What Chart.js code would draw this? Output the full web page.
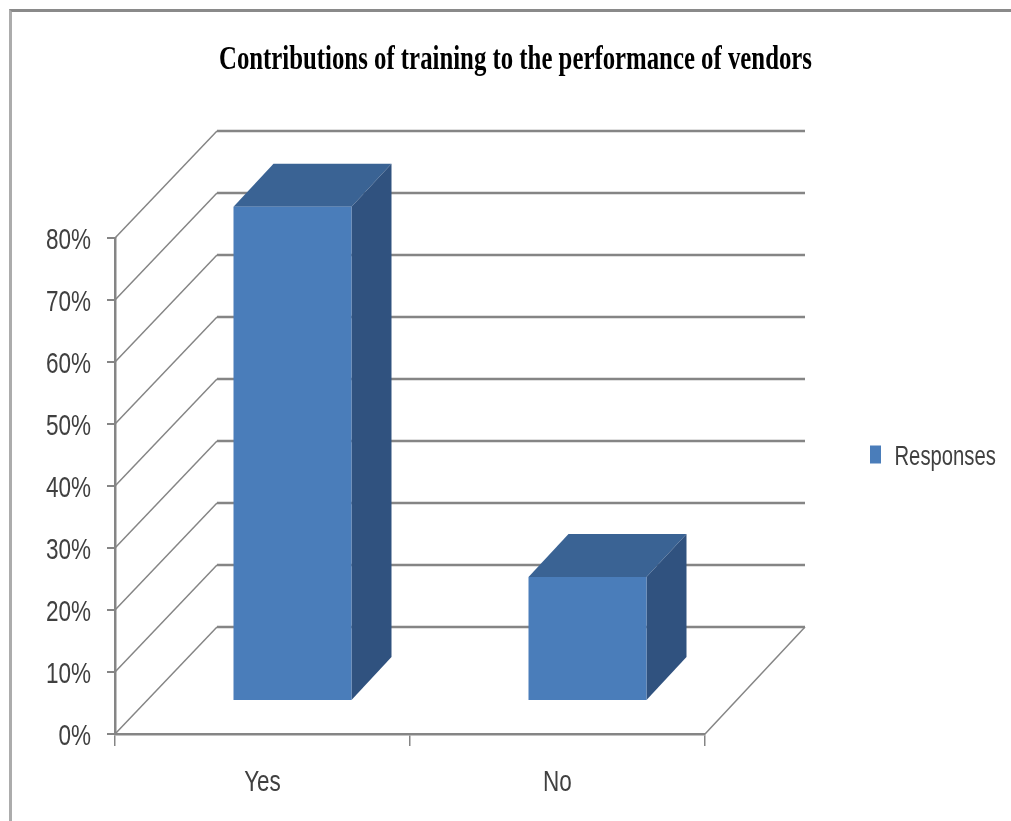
<!DOCTYPE html>
<html>
<head>
<meta charset="utf-8">
<title>Contributions of training</title>
<script src="https://cdn.jsdelivr.net/npm/chart.js@4/dist/chart.umd.min.js"></script>
<style>
    html, body { margin: 0; background: #fff; overflow: hidden; }
    #frame { position: absolute; left: 9px; top: 9px; right: 0; bottom: 0; border-top: 3px solid #8a8a8a; border-left: 3px solid #acacac; }
    #myChart { position: absolute; left: 0; top: 0; }
</style>
</head>
<body>
<div id="frame"></div>
<canvas id="myChart" width="1011" height="821"></canvas>
<script>
const chartTitle = 'Contributions of training to the performance of vendors';
const categories = ['Yes', 'No'];
const seriesName = 'Responses';
const responses = [79.7, 20];
const yTicks = [0, 10, 20, 30, 40, 50, 60, 70, 80];

const sansFamily = '"Liberation Sans", sans-serif';
const lineGrey = '#858585';

// fake 3d: how far the back wall and the columns sit from the axes
const wall = { dx: 102, dxRight: 100, dy: -107 };
const column = { dx: 30, dy: -33, depthX: 40, depthY: -43 };

var ctx = document.getElementById('myChart').getContext('2d');

// no condensed fonts on hand, so every label gets squeezed sideways when drawn
ctx.font = 'bold 33px "Liberation Serif", serif';
const titleSqueeze = 593 / ctx.measureText(chartTitle).width;
const labelSqueeze = 0.75;
const plainFillText = ctx.fillText;
ctx.fillText = function (text, x, y) {
    const isTitle = this.font.startsWith('bold');
    this.save();
    this.translate(x, isTitle ? y : y + 3);
    this.scale(isTitle ? titleSqueeze : labelSqueeze, 1);
    plainFillText.call(this, text, 0, 0);
    this.restore();
};

function line(x1, y1, x2, y2) {
    ctx.beginPath();
    ctx.moveTo(x1, y1);
    ctx.lineTo(x2, y2);
    ctx.stroke();
}

function poly(pts, color) {
    ctx.fillStyle = color;
    ctx.beginPath();
    pts.forEach((p, i) => i ? ctx.lineTo(p[0], p[1]) : ctx.moveTo(p[0], p[1]));
    ctx.closePath();
    ctx.fill();
}

const box3d = {
    id: 'box3d',
    afterLayout(chart) {
        // title centres over the whole frame, legend sits out in the right margin
        chart.titleBlock.left = 20;
        chart.titleBlock.right = 1011;
        Object.assign(chart.legend, { left: 870, right: 1011, top: 441, bottom: 485 });
    },
    beforeDatasetsDraw(chart) {
        const area = chart.chartArea, y = chart.scales.y;
        ctx.save();
        ctx.strokeStyle = lineGrey;
        yTicks.forEach(v => {
            const py = y.getPixelForValue(v);
            ctx.lineWidth = 1.5;
            line(area.left, py, area.left + wall.dx, py + wall.dy);
            ctx.lineWidth = 2.5;
            line(area.left + wall.dx, py + wall.dy, area.right + wall.dxRight, py + wall.dy);
        });
        // right edge of the floor
        ctx.lineWidth = 1.5;
        line(area.right, area.bottom, area.right + wall.dxRight, area.bottom + wall.dy);
        ctx.restore();
    },
    beforeDatasetDraw(chart, args) {
        ctx.save();
        ctx.translate(column.dx, column.dy);
        args.meta.data.forEach(bar => {
            const l = bar.x - bar.width / 2, r = bar.x + bar.width / 2;
            const dx = column.depthX, dy = column.depthY;
            poly([[l, bar.y], [r, bar.y], [r + dx, bar.y + dy], [l + dx, bar.y + dy]], '#3a6394');
            poly([[r, bar.y], [r + dx, bar.y + dy], [r + dx, bar.base + dy], [r, bar.base]], '#30527f');
        });
    },
    afterDatasetDraw() {
        ctx.restore();
    }
};

var myChart = new Chart(ctx, {
    type: 'bar',
    plugins: [box3d],
    data: {
        labels: categories,
        datasets: [{
            label: seriesName,
            data: responses,
            backgroundColor: '#4a7dba',
            borderWidth: 0,
            barPercentage: 1,
            categoryPercentage: 0.4,
            clip: false
        }]
    },
    options: {
        responsive: false,
        animation: false,
        events: [],
        layout: { padding: { left: 0, right: 306, top: 0, bottom: 0 } },
        scales: {
            x: {
                afterFit: s => { s.height = 87; },
                border: { color: lineGrey, width: 2.5 },
                grid: { drawOnChartArea: false, color: lineGrey, lineWidth: 1.5, tickLength: 12 },
                ticks: { color: '#404040', font: { family: sansFamily, size: 30 }, padding: 16 }
            },
            y: {
                min: 0,
                max: 80,
                afterFit: s => { s.width = 115; },
                afterBuildTicks: s => { s.ticks = yTicks.map(v => ({ value: v })); },
                border: { color: lineGrey, width: 2.5 },
                grid: { drawOnChartArea: false, color: lineGrey, lineWidth: 2, tickLength: 8 },
                ticks: { color: '#404040', font: { family: sansFamily, size: 30 }, padding: 16, callback: v => v + '%' }
            }
        },
        plugins: {
            title: {
                display: true,
                text: chartTitle,
                color: '#000',
                font: { family: '"Liberation Serif", serif', size: 33, weight: 'bold' },
                padding: { top: 40.4, bottom: 158 }
            },
            tooltip: { enabled: false },
            legend: {
                position: 'chartArea',
                align: 'start',
                labels: { boxWidth: 11, boxHeight: 18, padding: 0, color: '#404040', font: { family: sansFamily, size: 27 } }
            }
        }
    }
});
</script>
</body>
</html>
